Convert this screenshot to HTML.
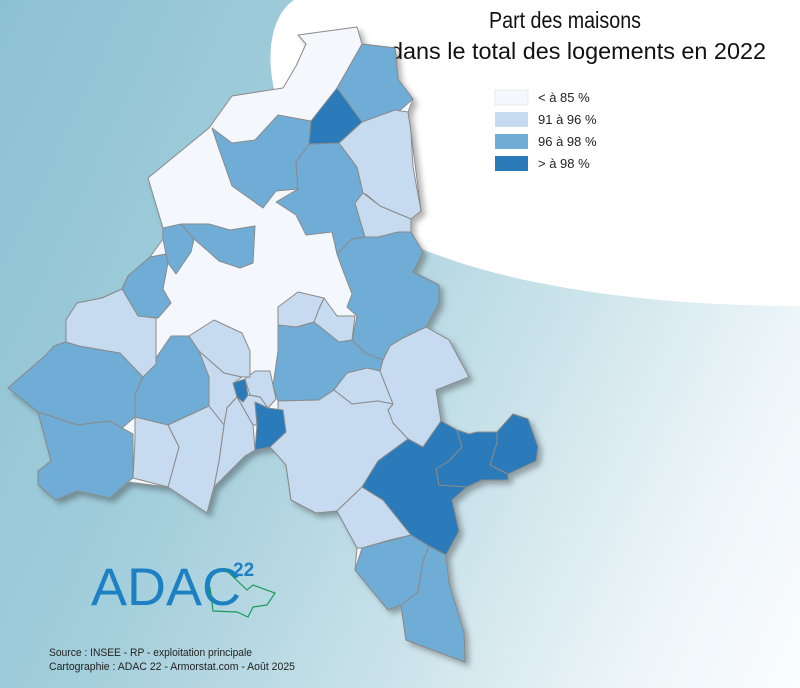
<!DOCTYPE html>
<html><head><meta charset="utf-8"><style>
html,body{margin:0;padding:0}
body{width:800px;height:688px;overflow:hidden;background:linear-gradient(115deg,#8cc1d3 0%,#a3cedb 35%,#c9e2ea 62%,#eef6f9 85%,#fbfdfe 100%);font-family:"Liberation Sans",sans-serif}
svg{position:absolute;left:0;top:0}
</style></head><body>
<svg width="800" height="688" viewBox="0 0 800 688">
<defs><filter id="sh" x="-10%" y="-10%" width="130%" height="130%"><feDropShadow dx="4" dy="4" stdDeviation="3" flood-color="#000" flood-opacity="0.3"/></filter></defs>
<path d="M294,0 C256,25 258,125 345,205 C430,275 610,306 800,306 L800,0 Z" fill="#ffffff"/>
<text x="565" y="28" font-size="23" text-anchor="middle" fill="#111" textLength="152" lengthAdjust="spacingAndGlyphs">Part des maisons</text>
<text x="578" y="59" font-size="23" text-anchor="middle" fill="#111" textLength="376" lengthAdjust="spacingAndGlyphs">dans le total des logements en 2022</text>
<g font-size="13" fill="#222">
<rect x="495" y="90" width="33" height="15" fill="#f4f8fc" stroke="#ddd" stroke-width="0.5"/><text x="538" y="102">&lt; à 85 %</text>
<rect x="495" y="112" width="33" height="15" fill="#c6dbef"/><text x="538" y="124">91 à 96 %</text>
<rect x="495" y="134" width="33" height="15" fill="#6fadd6"/><text x="538" y="146">96 à 98 %</text>
<rect x="495" y="156" width="33" height="15" fill="#2b7bba"/><text x="538" y="168">&gt; à 98 %</text>
</g>
<g stroke="#8a8a8a" stroke-width="1" stroke-linejoin="round">
<polygon filter="url(#sh)" fill="#f4f8fc" points="298,35 357,27 362,44 395,48 398,79 413,99 408,112 411,132 421,211 411,219 411,232 423,252 413,272 439,285 439,303 426,327 449,340 462,364 469,377 436,390 441,421 457,430 469,434 497,432 513,414 528,419 538,447 536,461 508,474 508,480 482,480 467,487 452,500 459,531 446,555 449,583 464,632 465,662 406,640 401,605 388,610 355,570 357,548 337,511 316,513 291,500 286,465 276,447 255,450 245,456 214,487 207,513 168,487 128,482 110,498 77,491 56,500 38,485 38,471 51,461 38,412 8,388 46,355 54,346 66,342 66,320 77,303 102,298 122,289 128,276 150,257 163,239 163,228 148,178 209,128 232,96 283,88 296,66 306,44"/>
<g fill="#6fadd6">
<polygon points="362,44 395,48 398,79 413,99 398,112 362,122 337,88"/>
<polygon points="212,128 232,143 255,140 278,115 311,121 309,144 296,162 298,189 276,191 263,208 232,186 219,149"/>
<polygon points="309,144 339,143 357,167 363,193 355,203 365,237 352,239 337,254 332,232 306,235 296,215 276,202 298,189 296,162"/>
<polygon points="337,254 352,239 365,237 378,237 398,232 411,232 423,252 413,272 439,285 439,303 426,327 403,338 390,346 383,360 365,353 352,340 357,316 347,307 352,294 342,268"/>
<polygon points="278,325 296,327 314,322 339,342 352,340 365,353 383,360 380,371 367,368 347,373 334,390 319,400 278,401 273,386 278,351"/>
<polygon points="135,395 143,377 171,336 189,336 199,351 209,377 209,406 168,425 135,417"/>
<polygon points="8,388 46,355 54,346 66,342 79,346 120,353 143,377 135,395 135,417 122,428 110,421 77,425 38,412"/>
<polygon points="38,412 77,425 110,421 122,428 133,434 133,478 128,482 110,498 77,491 56,500 38,485 38,471 51,461"/>
<polygon points="128,276 150,257 166,254 168,263 163,289 171,303 158,318 138,316 122,289"/>
<polygon points="163,228 181,224 194,239 191,252 176,274 168,263 166,254 163,239"/>
<polygon points="181,224 209,224 230,230 255,226 253,263 240,268 219,261 209,252 194,239"/>
<polygon points="362,548 411,535 429,546 423,561 418,592 401,605 388,610 355,570"/>
<polygon points="429,546 446,555 449,583 464,632 465,662 406,640 401,605 418,592 423,561"/>
</g>
<g fill="#c6dbef">
<polygon points="362,122 395,110 408,112 411,132 413,167 421,211 411,219 380,206 367,195 363,193 357,167 339,143"/>
<polygon points="363,193 380,206 411,219 411,232 398,232 378,237 365,237 355,203"/>
<polygon points="278,307 298,292 324,298 319,309 314,322 296,327 278,325"/>
<polygon points="324,298 337,316 355,316 352,340 339,342 314,322 319,309"/>
<polygon points="347,373 367,368 380,371 393,404 378,401 352,404 334,390"/>
<polygon points="390,346 403,338 426,327 449,340 462,364 469,377 436,390 441,421 423,447 408,439 393,423 388,410 393,404 380,371 383,360"/>
<polygon points="278,401 319,400 334,390 352,404 378,401 393,404 388,410 393,423 408,439 378,461 362,487 337,511 316,513 291,500 286,465 270,447 283,423 278,408"/>
<polygon points="337,511 362,487 383,500 411,535 390,540 362,548 357,548"/>
<polygon points="245,379 255,371 270,371 276,399 268,408 260,397 250,395"/>
<polygon points="243,402 248,395 260,397 268,408 255,402 257,425 253,425 237,397"/>
<polygon points="199,351 224,373 242,377 235,382 237,397 227,408 224,425 209,406 209,377"/>
<polygon points="189,336 214,320 242,333 250,351 250,377 242,377 224,373 199,351"/>
<polygon points="224,425 227,408 237,397 253,425 255,450 245,456 214,487 219,461"/>
<polygon points="168,425 209,406 224,425 219,461 214,487 207,513 168,487 179,447"/>
<polygon points="135,417 168,425 179,447 168,487 133,478 135,439"/>
<polygon points="66,320 77,303 102,298 122,289 138,316 156,318 156,364 143,377 120,353 79,346 66,342"/>
</g>
<g fill="#2b7bba">
<polygon points="337,88 362,122 339,143 309,144 311,121"/>
<polygon points="233,383 245,379 248,395 243,402 237,397"/>
<polygon points="255,402 268,408 283,410 286,432 270,447 255,450 257,425"/>
<polygon points="408,439 423,447 441,421 457,430 462,447 449,461 436,469 439,485 467,487 452,500 459,531 446,555 429,546 411,535 383,500 362,487 378,461"/>
<polygon points="457,430 469,434 477,432 497,432 497,443 490,465 508,474 508,480 482,480 467,487 439,485 436,469 449,461 462,447"/>
<polygon points="497,443 497,432 513,414 528,419 538,447 536,461 508,474 490,465"/>
</g>
</g>
<text x="91" y="605" font-size="53" fill="#1c80c2" textLength="150" lengthAdjust="spacingAndGlyphs">ADAC</text>
<text x="233" y="576" font-size="19" font-weight="bold" fill="#1c80c2">22</text>
<polyline points="225,569 247,590 253,585 275,593 267,605 253,607 248,617 237,612 213,611 210,587" fill="none" stroke="#1a9a5a" stroke-width="1.2"/>
<text x="49" y="656" font-size="11" fill="#222" textLength="203" lengthAdjust="spacingAndGlyphs">Source : INSEE - RP - exploitation principale</text>
<text x="49" y="670" font-size="11" fill="#222" textLength="246" lengthAdjust="spacingAndGlyphs">Cartographie : ADAC 22 - Armorstat.com - Août 2025</text>
</svg>
</body></html>
